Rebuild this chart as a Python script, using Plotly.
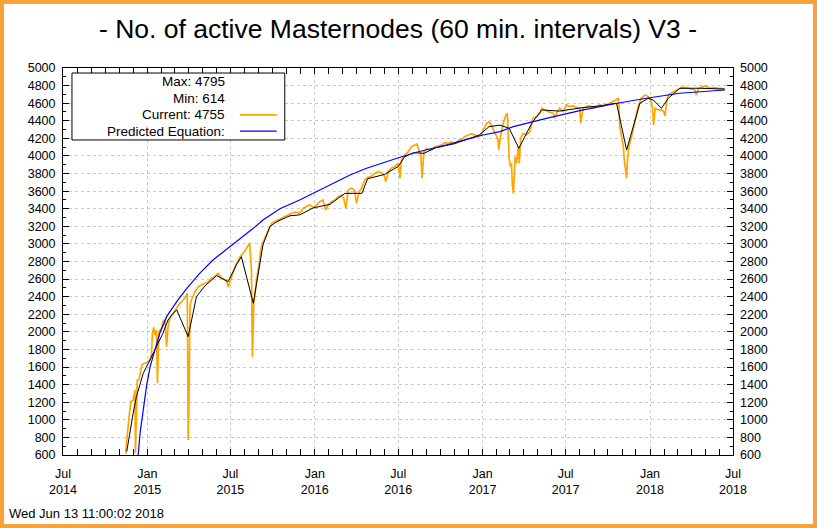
import plotly.graph_objects as go

# ---------------- data ----------------
orange_dates = [
    "2014-11-15", "2014-11-17", "2014-11-23", "2014-11-26", "2014-12-01", "2014-12-05",
    "2014-12-06", "2014-12-08", "2014-12-10", "2014-12-14", "2014-12-19", "2014-12-22",
    "2014-12-30", "2015-01-07", "2015-01-10", "2015-01-12", "2015-01-15", "2015-01-17",
    "2015-01-21", "2015-01-22", "2015-01-23", "2015-01-26", "2015-01-30", "2015-02-01",
    "2015-02-04", "2015-02-08", "2015-02-12", "2015-02-15", "2015-02-19", "2015-02-26",
    "2015-03-06", "2015-03-13", "2015-03-20", "2015-03-26", "2015-03-29", "2015-03-31",
    "2015-04-02", "2015-04-04", "2015-04-07", "2015-04-15", "2015-04-22", "2015-04-29",
    "2015-05-06", "2015-05-14", "2015-05-21", "2015-05-28", "2015-06-04", "2015-06-12",
    "2015-06-19", "2015-06-23", "2015-06-26", "2015-06-30", "2015-07-07", "2015-07-14",
    "2015-07-22", "2015-07-29", "2015-08-05", "2015-08-09", "2015-08-12", "2015-08-16",
    "2015-08-18", "2015-08-20", "2015-08-21", "2015-08-23", "2015-08-27", "2015-09-02",
    "2015-09-05", "2015-09-09", "2015-09-14", "2015-09-21", "2015-09-29", "2015-10-06",
    "2015-10-13", "2015-10-28", "2015-11-08", "2015-11-19", "2015-11-29", "2015-12-07",
    "2015-12-21", "2015-12-29", "2016-01-05", "2016-01-12", "2016-01-19", "2016-01-25",
    "2016-01-30", "2016-02-07", "2016-02-14", "2016-02-21", "2016-02-28", "2016-03-04",
    "2016-03-09", "2016-03-14", "2016-03-21", "2016-03-28", "2016-04-01", "2016-04-07",
    "2016-04-12", "2016-04-19", "2016-04-26", "2016-05-04", "2016-05-11", "2016-05-18",
    "2016-05-26", "2016-05-31", "2016-06-04", "2016-06-09", "2016-06-16", "2016-06-24",
    "2016-07-01", "2016-07-05", "2016-07-08", "2016-07-15", "2016-07-23", "2016-07-30",
    "2016-08-06", "2016-08-11", "2016-08-16", "2016-08-19", "2016-08-22", "2016-08-26",
    "2016-09-01", "2016-09-06", "2016-09-12", "2016-09-19", "2016-09-26", "2016-10-03",
    "2016-10-11", "2016-10-18", "2016-10-25", "2016-11-01", "2016-11-09", "2016-11-16",
    "2016-11-23", "2016-11-30", "2016-12-08", "2016-12-15", "2016-12-22", "2016-12-30",
    "2017-01-02", "2017-01-10", "2017-01-15", "2017-01-20", "2017-01-28", "2017-02-04",
    "2017-02-05", "2017-02-09", "2017-02-15", "2017-02-21", "2017-02-24", "2017-02-26",
    "2017-02-28", "2017-03-03", "2017-03-05", "2017-03-07", "2017-03-09", "2017-03-11",
    "2017-03-13", "2017-03-16", "2017-03-20", "2017-03-22", "2017-03-25", "2017-03-30",
    "2017-04-07", "2017-04-14", "2017-04-18", "2017-04-21", "2017-04-29", "2017-05-06",
    "2017-05-10", "2017-05-17", "2017-05-24", "2017-06-04", "2017-06-07", "2017-06-11",
    "2017-06-18", "2017-06-26", "2017-07-03", "2017-07-10", "2017-07-17", "2017-07-25",
    "2017-08-01", "2017-08-03", "2017-08-08", "2017-08-15", "2017-08-23", "2017-08-30",
    "2017-09-06", "2017-09-14", "2017-09-21", "2017-09-28", "2017-10-05", "2017-10-13",
    "2017-10-20", "2017-10-24", "2017-10-26", "2017-10-27", "2017-10-31", "2017-11-04",
    "2017-11-06", "2017-11-08", "2017-11-09", "2017-11-11", "2017-11-13", "2017-11-16",
    "2017-11-22", "2017-11-27", "2017-12-01", "2017-12-06", "2017-12-13", "2017-12-21",
    "2017-12-28", "2018-01-02", "2018-01-06", "2018-01-09", "2018-01-12", "2018-01-19",
    "2018-01-26", "2018-01-31", "2018-02-03", "2018-02-06", "2018-02-10", "2018-02-17",
    "2018-02-24", "2018-03-04", "2018-03-11", "2018-03-18", "2018-03-25", "2018-04-01",
    "2018-04-09", "2018-04-12", "2018-04-16", "2018-04-23", "2018-04-30", "2018-05-08",
    "2018-05-15", "2018-05-22", "2018-05-29", "2018-06-06", "2018-06-13",
]
orange_values = [
    614, 770, 1074, 1206, 1225, 1339,
    620, 1300, 1452, 1460, 1604, 1634,
    1649, 1680, 1756, 1984, 2052, 1964,
    2021, 1661, 1415, 2002, 2021, 2040,
    2116, 2135, 1832, 2059, 2154, 2211,
    2268, 2325, 2362, 2400, 2438, 770,
    1320, 2300, 2362, 2457, 2514, 2533,
    2552, 2571, 2609, 2628, 2666, 2609,
    2590, 2571, 2514, 2571, 2666, 2780,
    2855, 2893, 2950, 2988, 3007, 2700,
    1718, 2100, 2325, 2400, 2590, 2780,
    2931, 3007, 3064, 3158, 3234, 3253,
    3272, 3310, 3340, 3360, 3350, 3405,
    3442, 3416, 3442, 3480, 3499, 3385,
    3442, 3480, 3499, 3537, 3556, 3518,
    3405, 3613, 3632, 3613, 3461, 3594,
    3632, 3727, 3757, 3772, 3803, 3822,
    3810, 3784, 3707, 3822, 3860, 3879,
    3916, 3746, 3954, 4011, 4049, 4106,
    4124, 4136, 4049, 4030, 3746, 4049,
    4087, 4068, 4068, 4106, 4113, 4124,
    4150, 4143, 4162, 4143, 4173, 4189,
    4219, 4238, 4250, 4238, 4227, 4250,
    4295, 4371, 4390, 4352, 4260, 4181,
    4068, 4219, 4371, 4466, 4485, 4181,
    3954, 3878, 3916, 3651, 3575, 3765,
    3992, 3916, 4106, 3916, 4200, 4257,
    4238, 4276, 4371, 4428, 4447, 4485,
    4542, 4523, 4504, 4485, 4428, 4485,
    4542, 4504, 4580, 4561, 4568, 4553,
    4542, 4371, 4542, 4561, 4568, 4542,
    4561, 4580, 4568, 4580, 4599, 4618,
    4637, 4656, 4485, 4333, 4219, 4106,
    3954, 3878, 3803, 3746, 3954, 4106,
    4219, 4333, 4447, 4561, 4656, 4694,
    4675, 4637, 4561, 4352, 4542, 4523,
    4523, 4504, 4454, 4599, 4694, 4713,
    4732, 4758, 4780, 4780, 4769, 4758,
    4750, 4694, 4758, 4780, 4795, 4780,
    4769, 4780, 4769, 4769, 4755,
]

smooth_dates = [
    "2014-11-17", "2014-11-24", "2014-12-01", "2014-12-08", "2014-12-16", "2014-12-23",
    "2015-01-03", "2015-01-14", "2015-01-25", "2015-02-04", "2015-02-15", "2015-02-26",
    "2015-03-06", "2015-03-31", "2015-04-18", "2015-05-06", "2015-06-01", "2015-06-26",
    "2015-07-14", "2015-07-25", "2015-08-20", "2015-09-10", "2015-09-25", "2015-10-10",
    "2015-11-08", "2015-11-29", "2015-12-29", "2016-02-03", "2016-03-07", "2016-04-13",
    "2016-04-25", "2016-06-01", "2016-07-01", "2016-07-15", "2016-08-03", "2016-08-26",
    "2016-09-19", "2016-11-01", "2016-12-25", "2017-01-15", "2017-02-08", "2017-02-28",
    "2017-03-21", "2017-04-18", "2017-05-10", "2017-06-18", "2017-08-01", "2017-09-14",
    "2017-10-20", "2017-11-11", "2017-12-10", "2017-12-28", "2018-01-08", "2018-01-26",
    "2018-02-10", "2018-03-07", "2018-04-19", "2018-06-13",
]
smooth_values = [
    640, 884, 1074, 1263, 1415, 1529,
    1642, 1756, 1870, 1984, 2135, 2211,
    2249, 1946, 2400, 2520, 2640, 2571,
    2760, 2855, 2325, 2988, 3196, 3253,
    3320, 3330, 3410, 3450, 3575, 3575,
    3740, 3790, 3880, 3990, 4037, 4030,
    4090, 4140, 4238, 4333, 4350, 4314,
    4087, 4371, 4523, 4510, 4545, 4570,
    4600, 4068, 4599, 4656, 4637, 4542,
    4656, 4769, 4770, 4760,
]

pred_dates = [
    "2014-12-12", "2014-12-16", "2014-12-23", "2014-12-30", "2015-01-07", "2015-01-17",
    "2015-01-28", "2015-02-12", "2015-03-06", "2015-03-28", "2015-04-25", "2015-05-24",
    "2015-06-23", "2015-07-22", "2015-08-20", "2015-09-10", "2015-10-17", "2015-11-29",
    "2016-01-05", "2016-02-10", "2016-03-18", "2016-04-23", "2016-05-29", "2016-07-05",
    "2016-08-10", "2016-09-15", "2016-10-22", "2016-11-27", "2017-01-02", "2017-02-08",
    "2017-03-09", "2017-05-20", "2017-08-01", "2017-10-13", "2017-12-24", "2018-03-07",
    "2018-05-19", "2018-06-13",
]
pred_values = [
    600, 846, 1111, 1377, 1604, 1794,
    1984, 2173, 2344, 2495, 2666, 2817,
    2939, 3064, 3177, 3272, 3400, 3499,
    3594, 3689, 3784, 3860, 3924, 3985,
    4042, 4087, 4136, 4189, 4238, 4276,
    4333, 4428, 4515, 4591, 4656, 4713,
    4743, 4750,
]

x_tick_dates = ["2014-07-01", "2015-01-01", "2015-07-01", "2016-01-01", "2016-07-01",
                "2017-01-01", "2017-07-01", "2018-01-01", "2018-07-01"]
x_tick_labels = ["Jul<br>2014", "Jan<br>2015", "Jul<br>2015", "Jan<br>2016", "Jul<br>2016",
                 "Jan<br>2017", "Jul<br>2017", "Jan<br>2018", "Jul<br>2018"]
y_ticks = list(range(600, 5001, 200))

title_text = "- No. of active Masternodes (60 min. intervals) V3 -"
timestamp_text = "Wed Jun 13 11:00:02 2018"
legend_labels = ["Max:", "Min:", "Current:", "Predicted Equation:"]

# ---------------- figure ----------------
FONT = "Liberation Sans"
ORANGE = "#FFA500"
BLUE = "#0000FF"

fig = go.Figure()
fig.add_trace(go.Scatter(x=orange_dates, y=orange_values, mode="lines",
                         line=dict(color=ORANGE, width=1.7), showlegend=False,
                         hoverinfo="skip"))
fig.add_trace(go.Scatter(x=smooth_dates, y=smooth_values, mode="lines",
                         line=dict(color="black", width=1), showlegend=False,
                         hoverinfo="skip"))
fig.add_trace(go.Scatter(x=pred_dates, y=pred_values, mode="lines",
                         line=dict(color=BLUE, width=1.2), showlegend=False,
                         hoverinfo="skip", yaxis="y2"))

axis_common = dict(
    showline=True, linecolor="black", linewidth=1,
    ticks="inside", ticklen=6, tickcolor="black", tickwidth=1,
    showgrid=True, gridcolor="#c8c8c8", griddash="3px,3px", gridwidth=1,
    zeroline=False,
)
TICKFONT = dict(family=FONT, size=12.5, color="black")

fig.update_layout(
    width=817, height=528,
    paper_bgcolor="white", plot_bgcolor="white",
    margin=dict(l=63, r=84, t=68, b=73),
    title=dict(text=title_text, x=0.5, xref="paper", xanchor="center",
               y=0.945, yanchor="middle",
               font=dict(family=FONT, size=26.5, color="black")),
    xaxis=dict(
        type="date", range=["2014-07-01", "2018-07-01"],
        tickmode="array", tickvals=x_tick_dates, ticktext=x_tick_labels,
        mirror="allticks", ticklabelstandoff=7, tickfont=TICKFONT,
        minor=dict(dtick="M1", tick0="2014-07-01", ticks="inside", ticklen=3,
                   tickcolor="black", showgrid=False),
        **axis_common,
    ),
    yaxis=dict(
        range=[600, 5000], tickmode="array", tickvals=y_ticks,
        mirror="allticks", ticklabelstandoff=4, tickfont=TICKFONT,
        minor=dict(dtick=100, tick0=0, ticks="inside", ticklen=3,
                   tickcolor="black", showgrid=False),
        **axis_common,
    ),
    yaxis2=dict(
        range=[600, 5000], tickmode="array", tickvals=y_ticks, overlaying="y",
        side="right", showgrid=False, showline=False, ticks="", zeroline=False,
        ticklabelstandoff=6, tickfont=TICKFONT,
    ),
)

# legend box (text right-aligned, line sample on the right)
fig.add_shape(type="rect", xref="paper", yref="paper", x0=0.0134, x1=0.331,
              y0=0.814, y1=0.987, line=dict(color="black", width=1),
              fillcolor="white", layer="above")
legend_texts = [
    f"{legend_labels[0]} {max(orange_values)}",
    f"{legend_labels[1]} {min(orange_values)}",
    f"{legend_labels[2]} {orange_values[-1]}",
    legend_labels[3],
]
rows_y = [0.966, 0.922, 0.879, 0.837]
for txt, yy in zip(legend_texts, rows_y):
    fig.add_annotation(text=txt, xref="paper", yref="paper", x=0.245, y=yy,
                       xanchor="right", yanchor="middle", showarrow=False,
                       font=dict(family=FONT, size=13.5, color="black"))
fig.add_shape(type="line", xref="paper", yref="paper", x0=0.264, x1=0.319,
              y0=rows_y[2], y1=rows_y[2], line=dict(color=ORANGE, width=1.7),
              layer="above")
fig.add_shape(type="line", xref="paper", yref="paper", x0=0.264, x1=0.319,
              y0=rows_y[3], y1=rows_y[3], line=dict(color=BLUE, width=1.2),
              layer="above")

# timestamp
fig.add_annotation(text=timestamp_text, xref="paper", yref="paper", x=-0.083, y=-0.15,
                   xanchor="left", yanchor="middle", showarrow=False,
                   font=dict(family=FONT, size=13, color="black"))

# orange frame around the picture
fig.add_shape(type="rect", xref="paper", yref="paper",
              x0=-61 / 670, x1=1 + 82 / 670,
              y0=-71 / 387, y1=1 + 66 / 387,
              line=dict(color="#F8A23C", width=4), layer="above")

fig.write_html("out.html", include_plotlyjs=True,
               config={"displayModeBar": False, "staticPlot": True},
               post_script="document.body.style.margin='0';document.body.style.overflow='hidden';")
